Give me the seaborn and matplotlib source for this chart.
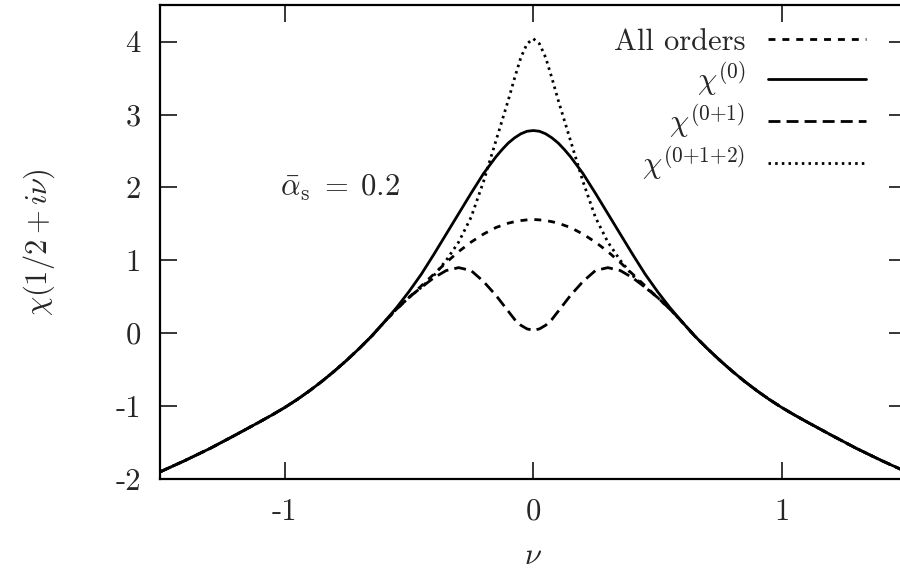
import pandas as pd
import matplotlib.pyplot as plt
import seaborn as sns

# Giá trị
nu = [-1.5, -1.4, -1.3, -1.2, -1.1, -1.05, -1.0, -0.95, -0.9, -0.85, -0.8, -0.75, -0.7, -0.65,
      -0.6, -0.55, -0.5, -0.45, -0.4, -0.35, -0.3, -0.25, -0.2, -0.15, -0.125, -0.1,
      -0.075, -0.05, -0.025, 0.0,
      0.025, 0.05, 0.075, 0.1, 0.125, 0.15, 0.2, 0.25, 0.3, 0.35, 0.4, 0.45, 0.5,
      0.55, 0.6, 0.65, 0.7, 0.75, 0.8, 0.85, 0.9, 0.95, 1.0, 1.05, 1.1, 1.2, 1.3, 1.4, 1.5]

chi_all = [-1.90, -1.745, -1.58, -1.40, -1.215, -1.12, -1.02, -0.91, -0.79, -0.66, -0.52, -0.37, -0.21, -0.04,
           0.15, 0.33, 0.49, 0.65, 0.81, 0.97, 1.12, 1.25, 1.36, 1.45, 1.48, 1.51,
           1.53, 1.545, 1.555, 1.56,
           1.555, 1.545, 1.53, 1.51, 1.48, 1.45, 1.36, 1.25, 1.12, 0.97, 0.81, 0.65, 0.49,
           0.33, 0.15, -0.04, -0.21, -0.37, -0.52, -0.66, -0.79, -0.91, -1.02, -1.12, -1.215,
           -1.40, -1.58, -1.745, -1.90]

chi_0 = [-1.90, -1.745, -1.58, -1.40, -1.215, -1.12, -1.02, -0.91, -0.79, -0.66, -0.52, -0.37, -0.21, -0.04,
         0.15, 0.35, 0.57, 0.81, 1.08, 1.36, 1.64, 1.92, 2.19, 2.42, 2.52, 2.61,
         2.68, 2.735, 2.77, 2.78,
         2.77, 2.735, 2.68, 2.61, 2.52, 2.42, 2.19, 1.92, 1.64, 1.36, 1.08, 0.81, 0.57,
         0.35, 0.15, -0.04, -0.21, -0.37, -0.52, -0.66, -0.79, -0.91, -1.02, -1.12, -1.215,
         -1.40, -1.58, -1.745, -1.90]

chi_01 = [-1.90, -1.745, -1.58, -1.40, -1.215, -1.12, -1.02, -0.91, -0.79, -0.66, -0.52, -0.37, -0.21, -0.04,
          0.15, 0.33, 0.49, 0.63, 0.76, 0.86, 0.90, 0.86, 0.71, 0.52, 0.41, 0.30,
          0.19, 0.11, 0.06, 0.04,
          0.06, 0.11, 0.19, 0.30, 0.41, 0.52, 0.71, 0.86, 0.90, 0.86, 0.76, 0.63, 0.49,
          0.33, 0.15, -0.04, -0.21, -0.37, -0.52, -0.66, -0.79, -0.91, -1.02, -1.12, -1.215,
          -1.40, -1.58, -1.745, -1.90]

chi_012 = [-1.90, -1.745, -1.58, -1.40, -1.215, -1.12, -1.02, -0.91, -0.79, -0.66, -0.52, -0.37, -0.21, -0.04,
           0.15, 0.33, 0.49, 0.63, 0.79, 1.00, 1.25, 1.59, 2.08, 2.64, 2.92, 3.20,
           3.50, 3.78, 3.97, 4.04,
           3.97, 3.78, 3.50, 3.20, 2.92, 2.64, 2.08, 1.59, 1.25, 1.00, 0.79, 0.63, 0.49,
           0.33, 0.15, -0.04, -0.21, -0.37, -0.52, -0.66, -0.79, -0.91, -1.02, -1.12, -1.215,
           -1.40, -1.58, -1.745, -1.90]

labels = ["All orders", r"$\chi^{(0)}$", r"$\chi^{(0{+}1)}$", r"$\chi^{(0{+}1{+}2)}$"]
x_ticks = [-1, 0, 1]
x_ticklabels = ["-1", "0", "1"]
y_ticks = [-2, -1, 0, 1, 2, 3, 4]
y_ticklabels = ["-2", "-1", "0", "1", "2", "3", "4"]

df = pd.DataFrame({"nu": nu, labels[0]: chi_all, labels[1]: chi_0,
                   labels[2]: chi_01, labels[3]: chi_012})

sns.set_style("ticks")
plt.rcParams["font.family"] = ["cmr10", "DejaVu Sans"]
plt.rcParams["mathtext.fontset"] = "cm"
plt.rcParams["axes.unicode_minus"] = False
plt.rcParams["axes.formatter.use_mathtext"] = True

fig = plt.figure(figsize=(9, 5.69), dpi=100)
ax = fig.add_axes([0.178, 0.158, 0.829, 0.833])

styles = [(0, (2.5, 2.5)), "-", (0, (4.3, 2.2)), (0, (0.9, 1.5))]
for lab, ls in zip(labels, styles):
    sns.lineplot(data=df, x="nu", y=lab, ax=ax, color="black", lw=2,
                 linestyle=ls, label=lab, dash_capstyle="butt")

ax.set_xlim(-1.5, 1.5)
ax.set_ylim(-2, 4.5)
ax.set_xticks(x_ticks, labels=x_ticklabels)
ax.set_yticks(y_ticks, labels=y_ticklabels)
ax.tick_params(direction="in", length=12, width=1.3, top=True, right=True,
               labelsize=22, pad=14)
for s in ax.spines.values():
    s.set_linewidth(1.6)
    s.set_color("black")

ax.set_xlabel(r"$\nu$", fontsize=22, labelpad=12)
ax.set_ylabel(r"$\chi(1/2+i\nu)$", fontsize=22, labelpad=42)
ax.text(-0.775, 2.0, r"$\bar{\alpha}_{\rm s}\;=\;0.2$", fontsize=22, ha="center", va="center")

h, l = ax.get_legend_handles_labels()
ax.legend(h, l, markerfirst=False, frameon=False, fontsize=22, loc="upper right",
          bbox_to_anchor=(0.962, 0.950), bbox_transform=fig.transFigure,
          handlelength=3.2, handletextpad=0.75, labelspacing=0.1, borderpad=0,
          borderaxespad=0)

plt.savefig("out.png", dpi=100)
